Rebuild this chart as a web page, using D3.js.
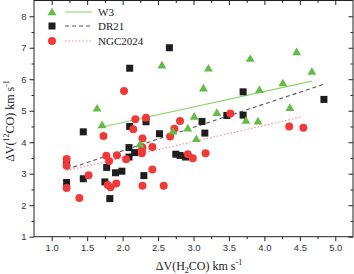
<!DOCTYPE html>
<html lang="en">
  <head>
    <meta charset="UTF-8" />
    <title>dV(12CO) vs dV(H2CO)</title>
    <style>
      html, body { margin: 0; padding: 0; background: #fff; }
      svg { display: block; }
      .tick text { font-family: "Liberation Sans", Arial, sans-serif; font-size: 9.5px; fill: #333; }
    </style>
    <script src="https://cdn.jsdelivr.net/npm/d3@7/dist/d3.min.js"></script>
  </head>
  <body>
    <script>
      // W3 (triangles)
      const w3X = [1.64, 1.71, 2.245, 2.555, 2.71, 2.92, 3.01, 3.04, 3.14, 3.21, 3.33, 3.74, 3.80, 3.91, 3.93, 4.26, 4.36, 4.455, 4.67];
      const w3Y = [5.08, 4.55, 3.94, 6.45, 4.35, 4.45, 4.82, 4.11, 5.72, 6.35, 4.94, 4.69, 6.66, 4.67, 5.67, 5.88, 5.10, 6.87, 6.25];

      // DR21 (squares)
      const dr21X = [1.21, 1.21, 1.445, 1.445, 1.75, 1.775, 1.82, 1.90, 1.99, 2.09, 2.09, 2.10, 2.10, 2.17, 2.30, 2.33, 2.52, 2.66, 2.75, 2.81, 2.89, 3.12, 3.16, 3.47, 3.70, 3.70, 4.84];
      const dr21Y = [3.35, 2.72, 4.33, 2.84, 2.74, 3.20, 2.21, 3.03, 3.08, 3.53, 3.83, 4.50, 6.35, 3.67, 2.94, 4.65, 4.27, 7.00, 3.62, 3.58, 3.53, 4.66, 4.29, 4.85, 4.86, 5.60, 5.36];

      // NGC2024 (circles)
      const ngcX = [1.21, 1.21, 1.21, 1.39, 1.52, 1.73, 1.77, 1.81, 1.79, 1.83, 1.92, 1.91, 2.02, 2.05, 2.15, 2.18, 2.28, 2.28, 2.27, 2.27, 2.28, 2.33, 2.42, 2.42, 2.58, 2.67, 2.73, 2.81, 2.92, 2.99, 3.17, 3.52, 4.35, 4.55];
      const ngcY = [3.47, 3.25, 2.55, 2.23, 2.95, 4.20, 3.57, 3.40, 2.64, 2.57, 3.59, 2.69, 5.63, 3.46, 4.41, 4.73, 4.12, 3.83, 3.73, 3.65, 2.62, 4.78, 3.85, 3.13, 2.62, 4.18, 4.43, 4.67, 3.62, 3.49, 3.65, 4.91, 4.50, 4.46];

      // linear fits, given as [x0, x1] and [y0, y1]
      const fitW3X = [1.66, 4.67], fitW3Y = [4.46, 5.94];
      const fitDR21X = [1.21, 4.84], fitDR21Y = [3.14, 5.84];
      const fitNgcX = [1.21, 4.50], fitNgcY = [3.10, 4.79];

      const xTicks = [1.0, 1.5, 2.0, 2.5, 3.0, 3.5, 4.0, 4.5, 5.0];
      const yTicks = [1, 2, 3, 4, 5, 6, 7, 8];

      const width = 354, height = 274;
      const margin = { top: 0.5, right: 1, bottom: 37.3, left: 34 };

      const green = "#66bb47", red = "#f03a3a", black = "#1e1e1e";

      const svg = d3.select(document.body).append("svg")
        .attr("width", width).attr("height", height);

      const x = d3.scaleLinear().domain([0.75, 5.25]).range([margin.left, width - margin.right]);
      const y = d3.scaleLinear().domain([1, 8.5]).range([height - margin.bottom, margin.top]);

      const xMinor = d3.range(1.25, 5.25, 0.5);
      const yMinor = d3.range(1.5, 8.5, 1);

      const x0 = x.range()[0], x1 = x.range()[1];
      const y0 = y.range()[0], y1 = y.range()[1];

      // frame
      svg.append("rect")
        .attr("x", x0).attr("y", y1)
        .attr("width", x1 - x0).attr("height", y0 - y1)
        .attr("fill", "none").attr("stroke", "#222").attr("stroke-width", 1);

      const axisStyle = (g) => {
        g.select(".domain").remove();
        g.selectAll(".tick line").attr("stroke", "#222");
      };

      svg.append("g").attr("transform", `translate(0,${y0})`)
        .call(d3.axisBottom(x).tickValues(xTicks).tickFormat(d3.format(".1f")).tickSize(4.5).tickPadding(3))
        .call(axisStyle);
      svg.append("g").attr("transform", `translate(0,${y0})`)
        .call(d3.axisBottom(x).tickValues(xMinor).tickFormat("").tickSize(2.5))
        .call(axisStyle);
      svg.append("g").attr("transform", `translate(0,${y1})`)
        .call(d3.axisBottom(x).tickValues(xTicks).tickFormat("").tickSize(4.5))
        .call(axisStyle);
      svg.append("g").attr("transform", `translate(0,${y1})`)
        .call(d3.axisBottom(x).tickValues(xMinor).tickFormat("").tickSize(2.5))
        .call(axisStyle);

      svg.append("g").attr("transform", `translate(${x0},0)`)
        .call(d3.axisLeft(y).tickValues(yTicks).tickFormat(d3.format("d")).tickSize(4.5).tickPadding(3))
        .call(axisStyle);
      svg.append("g").attr("transform", `translate(${x0},0)`)
        .call(d3.axisLeft(y).tickValues(yMinor).tickFormat("").tickSize(2.5))
        .call(axisStyle);
      svg.append("g").attr("transform", `translate(${x1},0)`)
        .call(d3.axisLeft(y).tickValues(yTicks).tickFormat("").tickSize(4.5))
        .call(axisStyle);
      svg.append("g").attr("transform", `translate(${x1},0)`)
        .call(d3.axisLeft(y).tickValues(yMinor).tickFormat("").tickSize(2.5))
        .call(axisStyle);

      // fit lines
      const line = d3.line().x((d) => x(d[0])).y((d) => y(d[1]));
      const fits = [
        { xs: fitW3X, ys: fitW3Y, color: "#8fd46e", dash: null, w: 1.1 },
        { xs: fitDR21X, ys: fitDR21Y, color: "#555", dash: "4,3", w: 1.1 },
        { xs: fitNgcX, ys: fitNgcY, color: "#f58a8a", dash: "1.5,2", w: 1.1 },
      ];
      svg.append("g").selectAll("path").data(fits).join("path")
        .attr("d", (f) => line(d3.zip(f.xs, f.ys)))
        .attr("fill", "none")
        .attr("stroke", (f) => f.color)
        .attr("stroke-width", (f) => f.w)
        .attr("stroke-dasharray", (f) => f.dash);

      // markers
      const tri = d3.symbol().type(d3.symbolTriangle).size(34)();
      svg.append("g").selectAll("rect").data(d3.zip(dr21X, dr21Y)).join("rect")
        .attr("x", (d) => x(d[0]) - 3.5).attr("y", (d) => y(d[1]) - 3.5)
        .attr("width", 7).attr("height", 7).attr("fill", black);
      svg.append("g").selectAll("circle").data(d3.zip(ngcX, ngcY)).join("circle")
        .attr("cx", (d) => x(d[0])).attr("cy", (d) => y(d[1]))
        .attr("r", 4).attr("fill", red);
      svg.append("g").selectAll("path").data(d3.zip(w3X, w3Y)).join("path")
        .attr("transform", (d) => `translate(${x(d[0])},${y(d[1]) + 0.8})`)
        .attr("d", tri).attr("fill", green);

      // legend
      const legend = svg.append("g").attr("font-family", "'Liberation Serif', 'Times New Roman', serif").attr("font-size", 11);
      const items = [
        { name: "W3", yy: 12, fit: fits[0] },
        { name: "DR21", yy: 26, fit: fits[1] },
        { name: "NGC2024", yy: 41, fit: fits[2] },
      ];
      items.forEach((it, i) => {
        const g = legend.append("g").attr("transform", `translate(0,${it.yy})`);
        if (i === 0) g.append("path").attr("transform", "translate(52,0.8)").attr("d", tri).attr("fill", green);
        if (i === 1) g.append("rect").attr("x", 48.5).attr("y", -3.5).attr("width", 7).attr("height", 7).attr("fill", black);
        if (i === 2) g.append("circle").attr("cx", 52).attr("cy", 0).attr("r", 4).attr("fill", red);
        g.append("line").attr("x1", 65).attr("x2", 92).attr("y1", 0).attr("y2", 0)
          .attr("stroke", it.fit.color).attr("stroke-width", it.fit.w).attr("stroke-dasharray", it.fit.dash);
        g.append("text").attr("x", 98).attr("y", 4).attr("fill", "#222").text(it.name);
      });

      // axis titles
      const xt = svg.append("text")
        .attr("x", 199).attr("y", 270)
        .attr("text-anchor", "middle")
        .attr("font-family", "'Liberation Serif', 'Times New Roman', serif")
        .attr("font-size", 12).attr("fill", "#222");
      xt.append("tspan").text("ΔV(H");
      xt.append("tspan").attr("font-size", 8).attr("dy", 3).text("2");
      xt.append("tspan").attr("dy", -3).text("CO)  km s");
      xt.append("tspan").attr("font-size", 8).attr("dy", -5).text("-1");

      const yt = svg.append("text")
        .attr("transform", "translate(14,121) rotate(-90)")
        .attr("text-anchor", "middle")
        .attr("font-family", "'Liberation Serif', 'Times New Roman', serif")
        .attr("font-size", 12).attr("fill", "#222");
      yt.append("tspan").text("ΔV(");
      yt.append("tspan").attr("font-size", 8).attr("dy", -5).text("12");
      yt.append("tspan").attr("dy", 5).text("CO)  km s");
      yt.append("tspan").attr("font-size", 8).attr("dy", -5).text("-1");
    </script>
  </body>
</html>
